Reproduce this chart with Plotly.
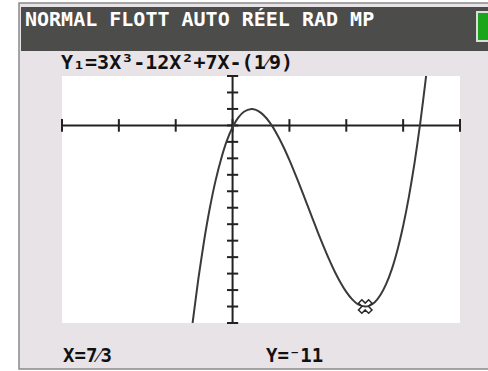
import plotly.graph_objects as go

# window of the calculator graph
x_min, x_max = -3, 4
y_min, y_max = -12, 3

# points of the curve
curve_x = [-0.71, -0.7, -0.6, -0.5, -0.4, -0.3, -0.2, -0.1, 0.0, 0.1, 0.2, 0.3333, 0.4, 0.5,
           0.6, 0.7, 0.8, 0.9, 1.0, 1.1, 1.2, 1.3, 1.4, 1.5, 1.6, 1.7, 1.8, 1.9, 2.0,
           2.1, 2.2, 2.3333, 2.4, 2.5, 2.6, 2.7, 2.8, 2.9, 3.0, 3.1, 3.2, 3.3, 3.4, 3.41]
curve_y = [-12.2, -11.92, -9.28, -6.99, -5.02, -3.37, -2.02, -0.93, -0.11, 0.47, 0.83, 1.0, 0.96, 0.76,
           0.42, -0.06, -0.66, -1.34, -2.11, -2.94, -3.81, -4.70, -5.60, -6.49, -7.34, -8.15, -8.90, -9.55, -10.11,
           -10.55, -10.85, -11.0, -10.96, -10.74, -10.30, -9.64, -8.74, -7.56, -6.11, -4.36, -2.29, 0.12, 2.88, 3.18]

x_ticks = [-3, -2, -1, 0, 1, 2, 3, 4]
y_ticks = list(range(-12, 4))

cursor_x = [7 / 3]
cursor_y = [-11]

status_text = "NORMAL FLOTT AUTO RÉEL RAD MP"
func_text = "Y₁=3X³-12X²+7X-(1⁄9)"
x_readout = "X=7⁄3"
y_readout = "Y=⁻11"

W, H = 488, 371


def px(x):
    return x / W


def py(y):
    return 1 - y / H


fig = go.Figure()

# axes drawn through the origin, calculator style
fig.add_trace(go.Scatter(x=x_ticks, y=[0] * len(x_ticks), mode='lines+markers',
                         line=dict(color='#222222', width=2),
                         marker=dict(symbol='line-ns', size=9, line=dict(color='#222222', width=2)),
                         hoverinfo='skip', cliponaxis=False))
fig.add_trace(go.Scatter(x=[0] * len(y_ticks), y=y_ticks, mode='lines+markers',
                         line=dict(color='#222222', width=2),
                         marker=dict(symbol='line-ew', size=8, line=dict(color='#222222', width=2)),
                         hoverinfo='skip', cliponaxis=False))

# the function
fig.add_trace(go.Scatter(x=curve_x, y=curve_y, mode='lines',
                         line=dict(color='#3a3a3a', width=2, shape='spline', smoothing=0.6),
                         hoverinfo='skip'))

# trace cursor (open symbols take their stroke from marker.color)
fig.add_trace(go.Scatter(x=cursor_x, y=cursor_y, mode='markers',
                         marker=dict(symbol='x-open', size=12, color='#2a2a2a',
                                     line=dict(width=1.5)),
                         hoverinfo='skip', cliponaxis=False))

shapes = [
    # screen body
    dict(type='rect', xref='paper', yref='paper', x0=px(19), x1=px(500), y0=py(369), y1=py(3),
         fillcolor='#e7e3e7', line=dict(color='#8a8a8a', width=1.5), layer='below'),
    # status bar
    dict(type='rect', xref='paper', yref='paper', x0=px(21), x1=px(500), y0=py(51), y1=py(7),
         fillcolor='#4c4c4a', line=dict(width=0), layer='below'),
    # graph area
    dict(type='rect', xref='paper', yref='paper', x0=px(62), x1=px(460), y0=py(323), y1=py(76),
         fillcolor='white', line=dict(width=0), layer='below'),
    # battery
    dict(type='rect', xref='paper', yref='paper', x0=px(477), x1=px(492), y0=py(41), y1=py(12),
         fillcolor='#1aa51a', line=dict(color='#dcdcdc', width=2), layer='below'),
]

mono = 'DejaVu Sans Mono'
annotations = [
    dict(text=status_text, x=px(23), y=py(19), xref='paper', yref='paper', xanchor='left', yanchor='middle',
         showarrow=False, font=dict(family=mono, size=20, color='white', weight='bold')),
    dict(text=func_text, x=px(59), y=py(62), xref='paper', yref='paper', xanchor='left', yanchor='middle',
         showarrow=False, font=dict(family=mono, size=20, color='#111111', weight='bold')),
    dict(text=x_readout, x=px(61), y=py(355), xref='paper', yref='paper', xanchor='left', yanchor='middle',
         showarrow=False, font=dict(family=mono, size=19, color='#111111', weight='bold')),
    dict(text=y_readout, x=px(264), y=py(355), xref='paper', yref='paper', xanchor='left', yanchor='middle',
         showarrow=False, font=dict(family=mono, size=19, color='#111111', weight='bold')),
]

fig.update_layout(
    width=W, height=H,
    margin=dict(l=0, r=0, t=0, b=0),
    paper_bgcolor='white',
    plot_bgcolor='rgba(0,0,0,0)',
    showlegend=False,
    shapes=shapes,
    annotations=annotations,
    xaxis=dict(domain=[px(62), px(460)], range=[x_min, x_max], visible=False, fixedrange=True),
    yaxis=dict(domain=[py(323), py(76)], range=[y_min, y_max], visible=False, fixedrange=True),
)

# the page has a default 8px body margin; drop it so the figure fills the window
fig.write_html("out.html", config={'displayModeBar': False},
               post_script="document.body.style.margin='0';")
